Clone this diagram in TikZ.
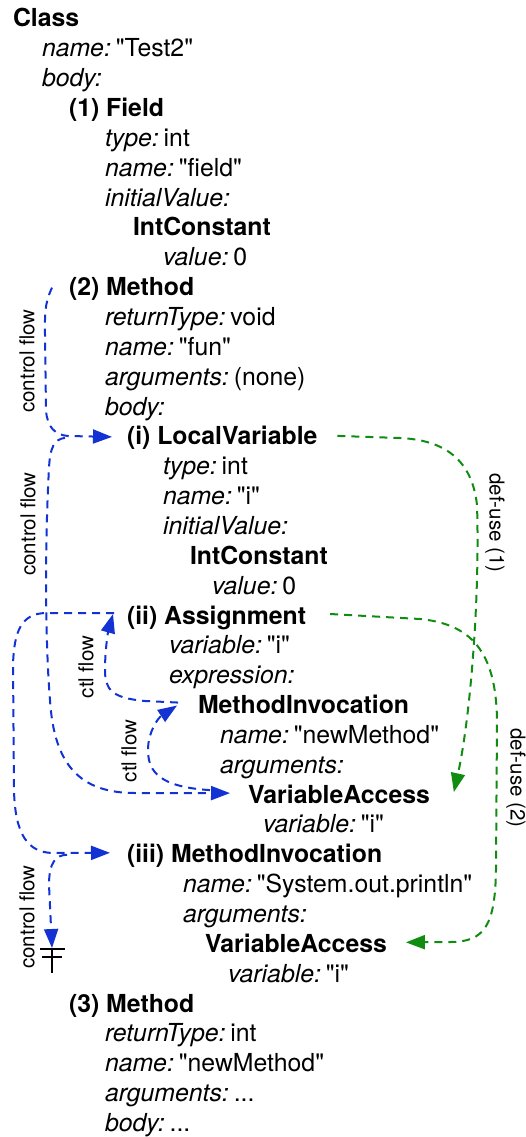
\documentclass[tikz,border=0pt]{standalone}
\usepackage{fontspec}
\setmainfont{TeX Gyre Heros}[Ligatures=TeXOff]
\usetikzlibrary{arrows.meta,calc}
\definecolor{flowblue}{RGB}{18,50,212}
\definecolor{defgreen}{RGB}{16,140,16}
\newcommand{\attr}[2]{\textit{#1:}\hspace{0.2em}#2}
\newcommand{\qt}[1]{"#1"}

\begin{document}
\begin{tikzpicture}[x=1pt,y=-1pt,
  every node/.style={inner sep=0pt,outer sep=0pt},
  txt/.style={anchor=base west,font=\fontsize{24.8}{30}\selectfont},
  hd/.style={anchor=base west,font=\fontsize{24.8}{30}\selectfont\bfseries},
  lbl/.style={font=\fontsize{20.5}{24}\selectfont},
  link/.style={line width=2pt,dash pattern=on 8pt off 6pt,
    -{Triangle[length=19pt,width=14pt]}},
  flow/.style={link,draw=flowblue},
  defuse/.style={link,draw=defgreen},
  gnd/.style={line width=1.8pt,draw=black}]
\useasboundingbox (0,0) rectangle (525,1137);

% ---- syntax tree, one line per row ----
\node[hd]  (cls) at (13,{27+29.85*0}) {Class};
\node[txt] (c1)  at (42,{27+29.85*1}) {\attr{name}{\qt{Test2}}};
\node[txt] (c2)  at (42,{27+29.85*2}) {\textit{body:}};
\node[hd]  (f1)  at (69,{27+29.85*3}) {(1) Field};
\node[txt] (f2)  at (105,{27+29.85*4}) {\attr{type}{int}};
\node[txt] (f3)  at (105,{27+29.85*5}) {\attr{name}{\qt{field}}};
\node[txt] (f4)  at (105,{27+29.85*6}) {\textit{initialValue:}};
\node[hd]  (f5)  at (133,{27+29.85*7}) {IntConstant};
\node[txt] (f6)  at (163,{27+29.85*8}) {\attr{value}{0}};
\node[hd]  (m2)  at (69,{27+29.85*9}) {(2) Method};
\node[txt] (m2a) at (105,{27+29.85*10}) {\attr{returnType}{void}};
\node[txt] (m2b) at (105,{27+29.85*11}) {\attr{name}{\qt{fun}}};
\node[txt] (m2c) at (105,{27+29.85*12}) {\attr{arguments}{(none)}};
\node[txt] (m2d) at (105,{27+29.85*13}) {\textit{body:}};
\node[hd]  (lv)  at (127,{27+29.85*14}) {(i) LocalVariable};
\node[txt] (lva) at (163,{27+29.85*15}) {\attr{type}{int}};
\node[txt] (lvb) at (163,{27+29.85*16}) {\attr{name}{\qt{i}}};
\node[txt] (lvc) at (163,{27+29.85*17}) {\textit{initialValue:}};
\node[hd]  (ic)  at (190,{27+29.85*18}) {IntConstant};
\node[txt] (icv) at (212,{27+29.85*19}) {\attr{value}{0}};
\node[hd]  (as)  at (127,{27+29.85*20}) {(ii) Assignment};
\node[txt] (asa) at (169,{27+29.85*21}) {\attr{variable}{\qt{i}}};
\node[txt] (asb) at (169,{27+29.85*22}) {\textit{expression:}};
\node[hd]  (mi1) at (198,{27+29.85*23}) {MethodInvocation};
\node[txt] (mia) at (220,{27+29.85*24}) {\attr{name}{\qt{newMethod}}};
\node[txt] (mib) at (220,{27+29.85*25}) {\textit{arguments:}};
\node[hd]  (va1) at (248,{27+29.85*26}) {VariableAccess};
\node[txt] (vaa) at (263,{27+29.85*27}) {\attr{variable}{\qt{i}}};
\node[hd]  (mi2) at (127,{27+29.85*28}) {(iii) MethodInvocation};
\node[txt] (mja) at (183,{27+29.85*29}) {\attr{name}{\qt{System.out.println}}};
\node[txt] (mjb) at (183,{27+29.85*30}) {\textit{arguments:}};
\node[hd]  (va2) at (205,{27+29.85*31}) {VariableAccess};
\node[txt] (vba) at (228,{27+29.85*32}) {\attr{variable}{\qt{i}}};
\node[hd]  (m3)  at (69,{27+29.85*33}) {(3) Method};
\node[txt] (m3a) at (105,{27+29.85*34}) {\attr{returnType}{int}};
\node[txt] (m3b) at (105,{27+29.85*35}) {\attr{name}{\qt{newMethod}}};
\node[txt] (m3c) at (105,{27+29.85*36}) {\attr{arguments}{...}};
\node[txt] (m3d) at (105,{27+29.85*37}) {\attr{body}{...}};

% ---- connector end points beside the nodes ----
\coordinate (m2Out) at ($(m2.base west)+(-17,-8)$);
\coordinate (lvIn)  at ($(lv.base west)+(-15,-8)$);
\coordinate (lvOut) at ($(lv.base west)+(-62,-7)$);
\coordinate (vaIn)  at ($(va1.base west)+(-18,-10)$);
\coordinate (vaOut) at ($(va1.base west)+(-38,-13)$);
\coordinate (miIn)  at ($(mi1.base west)+(-21,-8)$);
\coordinate (miOut) at ($(mi1.base west)+(-20,-11)$);
\coordinate (asIn)  at ($(as.base west)+(-14,-10)$);
\coordinate (asOut) at ($(as.base west)+(-13,-11)$);
\coordinate (ivIn)  at ($(mi2.base west)+(-17,-10)$);
\coordinate (ivOut) at ($(mi2.base west)+(-60,-8)$);
\coordinate (stop)  at (52,948);
\coordinate (lvDef) at ($(lv.base east)+(20,-9)$);
\coordinate (vaDef) at ($(va1.base east)+(24,-11)$);
\coordinate (asDef) at ($(as.base east)+(24,-10)$);
\coordinate (vbDef) at ($(va2.base east)+(19,-10)$);

% ---- control flow ----
\draw[flow] (m2Out) .. controls (44,305) and (45,315) .. (45,335) -- (46,410)
  .. controls (47,427) and (55,435) .. (68,436) -- (lvIn);
\draw[flow] (lvOut) .. controls (54,439) and (50,448) .. (49,468)
  .. controls (45,540) and (45,640) .. (50,700)
  .. controls (54,765) and (80,793) .. (135,793) -- (vaIn);
\draw[flow] (vaOut) .. controls (160,787) and (148,772) .. (148,750)
  .. controls (148,732) and (158,718) .. (miIn);
\draw[flow] (miOut) -- (145,701) .. controls (112,698) and (105,690) .. (105,670)
  .. controls (105,650) and (108,632) .. (asIn);
\draw[flow] (asOut) -- (45,613) .. controls (22,614) and (14,630) .. (13,665)
  -- (14,790) .. controls (15,835) and (28,852) .. (52,853) -- (ivIn);
\draw[flow] (ivOut) .. controls (56,855) and (49,862) .. (49,885) -- (stop);

% end of the flow
\draw[gnd] ($(stop)+(-12,1)$) -- ($(stop)+(13,1)$);
\draw[gnd] ($(stop)+(-10,9)$) -- ($(stop)+(10,9)$);
\draw[gnd] (stop) -- ($(stop)+(0,25)$);

% ---- def-use ----
\draw[defuse] (lvDef) -- (400,438) .. controls (445,440) and (472,460) .. (477,505)
  .. controls (480,600) and (470,720) .. (vaDef);
\draw[defuse] (asDef) -- (420,619) .. controls (470,624) and (496,650) .. (497,720)
  -- (496,870) .. controls (495,925) and (485,942) .. (450,942) -- (vbDef);

% ---- labels ----
\node[lbl,rotate=90]  (l1) at (27,361) {control flow};
\node[lbl,rotate=90]  (l2) at (28,524) {control flow};
\node[lbl,rotate=90]  (l3) at (27,917) {control flow};
\node[lbl,rotate=90]  (l4) at (86,667) {ctl flow};
\node[lbl,rotate=90]  (l5) at (129,751) {ctl flow};
\node[lbl,rotate=-90] (l6) at (495,523) {def-use (1)};
\node[lbl,rotate=-90] (l7) at (516,778) {def-use (2)};
\end{tikzpicture}
\end{document}
